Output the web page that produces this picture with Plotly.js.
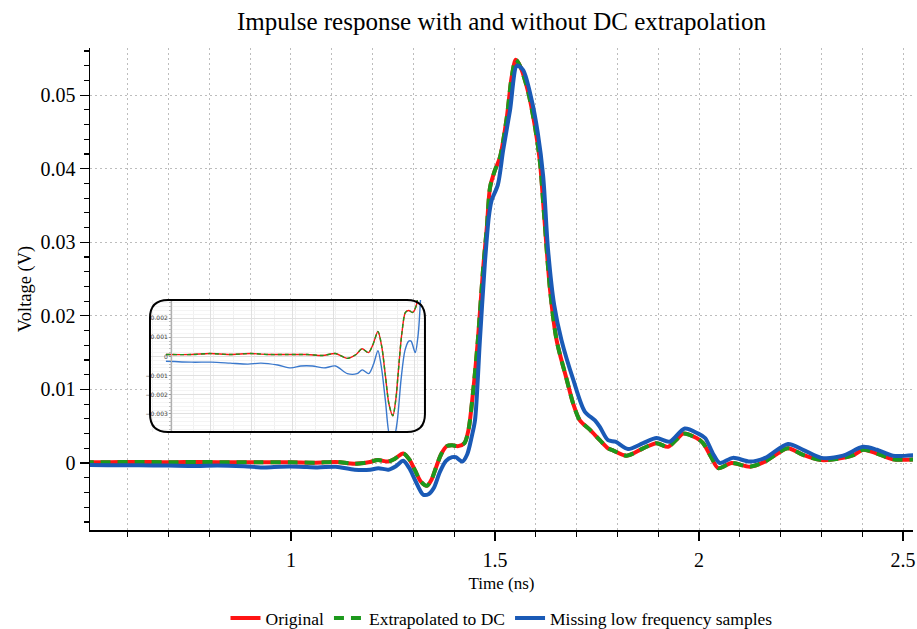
<!DOCTYPE html>
<html>
<head>
<meta charset="utf-8">
<script src="https://cdn.plot.ly/plotly-3.0.1.min.js"></script>
<style>html,body{margin:0;padding:0;background:#fff;}#chart{width:917px;height:629px;}</style>
</head>
<body>
<div id="chart"></div>
<script>
// Time axis (ns) and voltages (V)
const timeOriginal = [0.45,0.55,0.62,0.70,0.78,0.85,0.92,1.00,1.06,1.11,1.155,1.19,1.213,1.238,1.255,1.275,1.29,1.304,1.318,1.333,1.345,1.353,1.368,1.382,1.395,1.41,1.425,1.435,1.446,1.458,1.471,1.48,1.488,1.5,1.512,1.529,1.541,1.551,1.561,1.581,1.598,1.61,1.62,1.635,1.651,1.676,1.692,1.708,1.733,1.757,1.777,1.79,1.823,1.863,1.896,1.924,1.945,1.961,1.994,2.01,2.03,2.047,2.08,2.125,2.162,2.19,2.218,2.255,2.3,2.353,2.38,2.402,2.436,2.475,2.53];
const voltOriginal = [0.0001,0.0001,0.00015,0.0001,0.00015,0.0001,0.0001,0.0001,0.00005,0.00015,-0.0001,0.0001,0.0004,0.0002,0.0006,0.0013,0.0005,-0.001,-0.0025,-0.0031,-0.0022,-0.001,0.0012,0.0023,0.0024,0.0023,0.0027,0.0045,0.0095,0.0167,0.0265,0.032,0.0375,0.0398,0.0415,0.047,0.0525,0.0548,0.054,0.0505,0.0457,0.041,0.034,0.0235,0.0167,0.0113,0.008,0.0058,0.0045,0.0031,0.002,0.0017,0.001,0.002,0.0027,0.0022,0.0032,0.004,0.0034,0.0027,0.0008,-0.0007,0.0,-0.0005,0.0002,0.0012,0.002,0.0011,0.0004,0.0007,0.0011,0.0018,0.0013,0.0005,0.0005];
const timeExtrapolated = timeOriginal;
const voltExtrapolated = [0.0001,0.0001,0.00015,0.0001,0.00015,0.0001,0.0001,0.0001,0.00005,0.00015,-0.0001,0.0001,0.0004,0.0002,0.0006,0.0013,0.0005,-0.001,-0.0025,-0.0031,-0.0022,-0.001,0.0012,0.0023,0.0024,0.0023,0.0027,0.0045,0.0095,0.0167,0.0265,0.032,0.0375,0.0398,0.0415,0.047,0.0525,0.0548,0.054,0.0505,0.0457,0.041,0.034,0.0235,0.0167,0.0113,0.008,0.0058,0.0045,0.0031,0.002,0.0017,0.001,0.002,0.0027,0.0022,0.0032,0.004,0.0034,0.0027,0.0008,-0.0007,0.0,-0.0005,0.0002,0.0012,0.002,0.0011,0.0004,0.0007,0.0011,0.0018,0.0013,0.0005,0.0005];
const timeMissing = [0.45,0.55,0.627,0.70,0.769,0.82,0.885,0.936,0.975,1.02,1.065,1.11,1.156,1.194,1.214,1.239,1.258,1.275,1.29,1.304,1.324,1.338,1.35,1.365,1.38,1.395,1.404,1.42,1.432,1.443,1.451,1.463,1.475,1.485,1.4917,1.507,1.52,1.537,1.554,1.569,1.59,1.605,1.618,1.63,1.645,1.663,1.692,1.72,1.745,1.757,1.777,1.795,1.826,1.863,1.896,1.928,1.965,1.998,2.015,2.035,2.051,2.083,2.125,2.162,2.218,2.255,2.3,2.353,2.402,2.436,2.475,2.53];
const voltMissing = [-0.00025,-0.0003,-0.0003,-0.00035,-0.0004,-0.00035,-0.00045,-0.0006,-0.0005,-0.0005,-0.0006,-0.0005,-0.0009,-0.0009,-0.0007,-0.0009,-0.0004,0.0003,-0.0007,-0.0023,-0.0043,-0.0042,-0.0034,-0.0012,0.0003,0.0008,0.0008,0.0002,0.0012,0.0036,0.0058,0.0167,0.027,0.0335,0.0357,0.0378,0.0425,0.048,0.054,0.0534,0.0493,0.0448,0.039,0.029,0.0215,0.0167,0.0113,0.007,0.0058,0.0049,0.0031,0.0029,0.0019,0.0027,0.0034,0.0029,0.0047,0.004,0.0034,0.0012,0.0,0.0007,0.0002,0.0007,0.0026,0.0018,0.0007,0.001,0.0022,0.0018,0.001,0.0011];
const seriesNames = ["Original","Extrapolated to DC","Missing low frequency samples"];
const xTickLabels = ["1","1.5","2","2.5"];
const yTickLabels = ["0","0.01","0.02","0.03","0.04","0.05"];

const RED = "#ff1414", GREEN = "#1c991c", BLUE = "#1a5ab6";
const SERIF = "'Liberation Serif', 'Times New Roman', serif";
const GRID = "#bdbdbd", GRIDDASH = "2px,3px";

const traces = [
  {x: timeOriginal, y: voltOriginal, name: seriesNames[0], mode: "lines", xaxis: "x", yaxis: "y",
   line: {color: RED, width: 4, shape: "spline", smoothing: 0.8}},
  {x: timeExtrapolated, y: voltExtrapolated, name: seriesNames[1], mode: "lines", xaxis: "x", yaxis: "y",
   line: {color: GREEN, width: 4, dash: "10px,7px", shape: "spline", smoothing: 0.8}},
  {x: timeMissing, y: voltMissing, name: seriesNames[2], mode: "lines", xaxis: "x", yaxis: "y",
   line: {color: BLUE, width: 4, shape: "spline", smoothing: 0.8}},
  {x: timeOriginal, y: voltOriginal, showlegend: false, mode: "lines", xaxis: "x2", yaxis: "y2",
   line: {color: RED, width: 1.4, shape: "spline", smoothing: 0.8}},
  {x: timeExtrapolated, y: voltExtrapolated, showlegend: false, mode: "lines", xaxis: "x2", yaxis: "y2",
   line: {color: GREEN, width: 1.4, dash: "4px,3px", shape: "spline", smoothing: 0.8}},
  {x: timeMissing, y: voltMissing, showlegend: false, mode: "lines", xaxis: "x2", yaxis: "y2",
   line: {color: "#3a78cc", width: 1.4, shape: "spline", smoothing: 0.8}}
];

const gx0 = 0.0729, gx1 = 0.407, gy0 = 0.2033, gy1 = 0.4772, rx = 0.0219, ry = 0.0373;
const boxPath = `M ${gx0+rx},${gy1} L ${gx1-rx},${gy1} Q ${gx1},${gy1} ${gx1},${gy1-ry} L ${gx1},${gy0+ry} Q ${gx1},${gy0} ${gx1-rx},${gy0} L ${gx0+rx},${gy0} Q ${gx0},${gy0} ${gx0},${gy0+ry} L ${gx0},${gy1-ry} Q ${gx0},${gy1} ${gx0+rx},${gy1} Z`;

const layout = {
  width: 917, height: 629,
  margin: {l: 90, r: 4, t: 48, b: 99, autoexpand: false},
  paper_bgcolor: "#fff", plot_bgcolor: "#fff",
  font: {family: SERIF, color: "#000"},
  title: {text: "Impulse response with and without DC extrapolation", font: {family: SERIF, size: 25, color: "#000"},
          x: 0.5, xref: "paper", xanchor: "center", y: 0.967, yanchor: "middle"},
  showlegend: true,
  legend: {orientation: "h", x: 0.5, xanchor: "center", y: -0.183, yanchor: "middle",
           font: {family: SERIF, size: 17.5, color: "#000"}, bgcolor: "rgba(0,0,0,0)"},
  xaxis: {domain: [0, 1], range: [0.5074, 2.5245], anchor: "y", automargin: false,
          tickvals: xTickLabels.map(Number), ticktext: xTickLabels,
          ticks: "outside", ticklen: 9, tickwidth: 1.2, tickcolor: "#000", ticklabelstandoff: 2,
          showline: true, linecolor: "#000", linewidth: 1.5, zeroline: false,
          showgrid: true, gridcolor: GRID, griddash: GRIDDASH, gridwidth: 1,
          minor: {dtick: 0.1, tick0: 0, ticks: "outside", ticklen: 5, tickcolor: "#000", showgrid: true, gridcolor: GRID, griddash: GRIDDASH, gridwidth: 1},
          tickfont: {family: SERIF, size: 20, color: "#000"},
          title: {text: "Time (ns)", font: {family: SERIF, size: 17, color: "#000"}, standoff: 7}},
  yaxis: {domain: [0, 1], range: [-0.0091, 0.0564], anchor: "x", automargin: false,
          tickvals: yTickLabels.map(Number), ticktext: yTickLabels,
          ticks: "outside", ticklen: 9, tickwidth: 1.2, tickcolor: "#000", ticklabelstandoff: 0,
          showline: true, linecolor: "#000", linewidth: 1.5, zeroline: false,
          showgrid: true, gridcolor: GRID, griddash: GRIDDASH, gridwidth: 1,
          minor: {dtick: 0.002, tick0: 0, ticks: "outside", ticklen: 5, tickcolor: "#000", showgrid: false},
          tickfont: {family: SERIF, size: 20, color: "#000"},
          title: {text: "Voltage (V)", font: {family: SERIF, size: 18.5, color: "#000"}, standoff: 4}},
  xaxis2: {domain: [gx0, gx1], range: [0.388, 1.458], anchor: "y2",
           showticklabels: false, ticks: "", showline: false, zeroline: false,
           showgrid: true, gridcolor: "#e0e0e0", gridwidth: 1, tick0: 0.466, dtick: 0.1587,
           minor: {dtick: 0.0794, showgrid: true, gridcolor: "#f0f0f0", gridwidth: 1}},
  yaxis2: {domain: [gy0, gy1], range: [-0.00395, 0.00295], anchor: "free", position: 0.0984,
           dtick: 0.001, tick0: 0, showline: true, linecolor: "#b0b0b0", linewidth: 1, zeroline: false,
           ticks: "outside", ticklen: 2, tickcolor: "#999",
           minor: {dtick: 0.0002, ticks: "outside", ticklen: 2, tickcolor: "#bbb", showgrid: true, gridcolor: "#f4f4f4"},
           showgrid: true, gridcolor: "#e0e0e0", gridwidth: 1,
           tickfont: {family: "'DejaVu Sans', sans-serif", size: 6, color: "#444"}},
  shapes: [{type: "path", xref: "paper", yref: "paper", path: boxPath, layer: "above",
            line: {color: "#000", width: 2}, fillcolor: "rgba(0,0,0,0)"}],
  hovermode: false
};

Plotly.newPlot("chart", traces, layout, {displayModeBar: false, staticPlot: true});
</script>
</body>
</html>
